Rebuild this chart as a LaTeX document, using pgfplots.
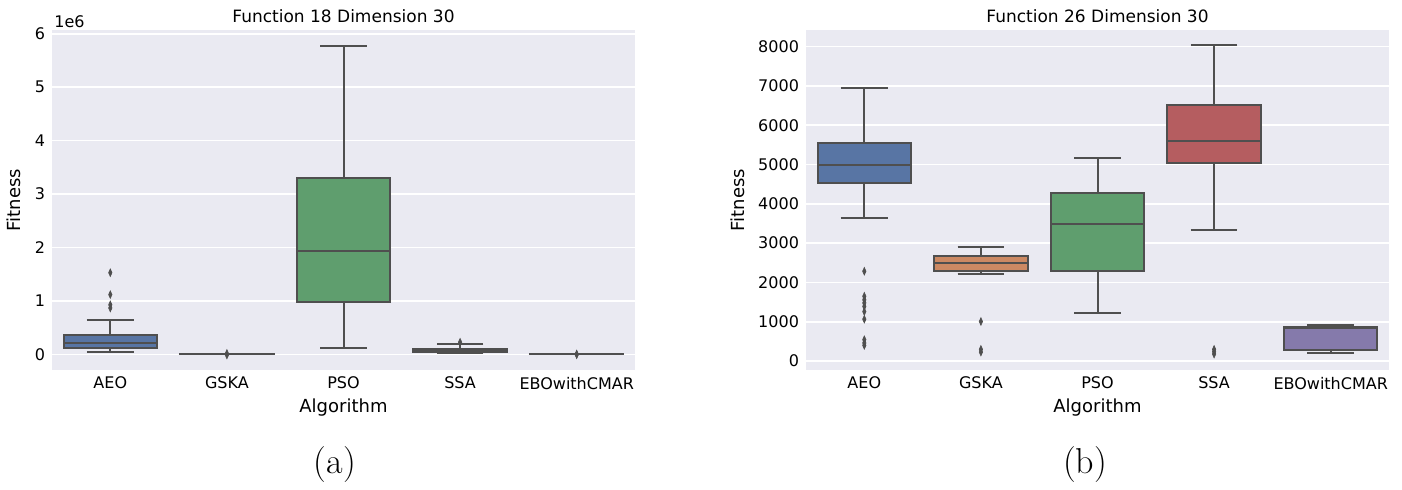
\documentclass[border=0pt]{standalone}
\usepackage{pgfplots}
\pgfplotsset{compat=1.18}
\usepgfplotslibrary{statistics}
\usepackage{fontspec}
\newfontfamily\sea{DejaVu Sans}
\definecolor{bgc}{HTML}{EAEAF2}
\definecolor{lc}{HTML}{4F4F4F}
\definecolor{cB}{HTML}{5875A4}
\definecolor{cO}{HTML}{CC8963}
\definecolor{cG}{HTML}{5F9E6E}
\definecolor{cR}{HTML}{B55D60}
\definecolor{cP}{HTML}{857AAB}
\pgfplotsset{
  every axis title/.style={at={(0.5,1)}, anchor=base, yshift=4pt, font=\sea\fontsize{8.5}{10}\selectfont},
  sea/.style={
    scale only axis, width=291.5pt, height=170pt,
    axis background/.style={fill=bgc},
    axis line style={draw=none},
    major tick length=0pt,
    ymajorgrids, grid style={white, line width=0.8pt},
    xmin=-0.5, xmax=4.5, xtick={0,1,2,3,4},
    xticklabels={AEO,GSKA,PSO,SSA,EBOwithCMAR},
    tick label style={font=\sea\fontsize{8}{9}\selectfont},
    /pgf/number format/assume math mode=true,
    /pgf/number format/1000 sep={},
    scaled y ticks=false,
    label style={font=\sea\fontsize{9}{10}\selectfont},
    xlabel style={yshift=2pt},
    xlabel=Algorithm, ylabel=Fitness,
    clip=false,
    boxplot/draw direction=y,
    boxplot/box extend=0.8,
    boxplot/whisker extend=0.4,
    boxplot/every median/.style={line width=1pt},
    boxplot/every whisker/.style={line width=1pt},
    boxplot/every box/.style={line width=1pt},
  },
  bx/.style={draw=lc, line width=1pt, fill=#1, mark=diamond*,
    mark size=1.9pt, mark options={xscale=0.6, fill=lc, draw=lc, line width=0.3pt}},
}
\begin{document}
\begin{tikzpicture}
\useasboundingbox (0,0) rectangle (701pt,244.5pt);
\begin{axis}[sea, at={(26pt,59.5pt)}, anchor=south west,
  title={Function 18 Dimension 30},
  ymin=-0.29, ymax=6.07, ytick={0,1,2,3,4,5,6}]
\addplot[bx=cB, boxplot prepared={draw position=0, lower whisker=0.04, lower quartile=0.13, median=0.22, upper quartile=0.37, upper whisker=0.65}]
  table[row sep=\\, y index=0]{d\\1.53\\1.12\\0.93\\0.87\\};
\addplot[bx=cO, boxplot prepared={draw position=1, lower whisker=0.004, lower quartile=0.005, median=0.005, upper quartile=0.006, upper whisker=0.007}]
  table[row sep=\\, y index=0]{d\\0.02\\-0.01\\};
\addplot[bx=cG, boxplot prepared={draw position=2, lower whisker=0.12, lower quartile=0.99, median=1.94, upper quartile=3.31, upper whisker=5.78}]
  coordinates {};
\addplot[bx=cR, boxplot prepared={draw position=3, lower whisker=0.02, lower quartile=0.05, median=0.08, upper quartile=0.11, upper whisker=0.19}]
  table[row sep=\\, y index=0]{d\\0.23\\};
\addplot[bx=cP, boxplot prepared={draw position=4, lower whisker=0.002, lower quartile=0.003, median=0.003, upper quartile=0.004, upper whisker=0.005}]
  table[row sep=\\, y index=0]{d\\0.01\\-0.005\\};
\node[anchor=south west, inner sep=1pt, font=\sea\fontsize{8}{9}\selectfont] at (rel axis cs:0,1) {1e6};
\end{axis}
\begin{axis}[sea, at={(403pt,59.5pt)}, anchor=south west,
  title={Function 26 Dimension 30},
  ymin=-225, ymax=8420, ytick={0,1000,2000,3000,4000,5000,6000,7000,8000}]
\addplot[bx=cB, boxplot prepared={draw position=0, lower whisker=3647, lower quartile=4521, median=5000, upper quartile=5546, upper whisker=6949}]
  table[row sep=\\, y index=0]{d\\2286\\1650\\1560\\1480\\1390\\1260\\1067\\546\\462\\400\\};
\addplot[bx=cO, boxplot prepared={draw position=1, lower whisker=2218, lower quartile=2294, median=2496, upper quartile=2672, upper whisker=2907}]
  table[row sep=\\, y index=0]{d\\1008\\300\\230\\};
\addplot[bx=cG, boxplot prepared={draw position=2, lower whisker=1218, lower quartile=2294, median=3487, upper quartile=4286, upper whisker=5160}]
  coordinates {};
\addplot[bx=cR, boxplot prepared={draw position=3, lower whisker=3336, lower quartile=5050, median=5596, upper quartile=6512, upper whisker=8033}]
  table[row sep=\\, y index=0]{d\\300\\240\\180\\};
\addplot[bx=cP, boxplot prepared={draw position=4, lower whisker=201, lower quartile=283, median=850, upper quartile=860, upper whisker=931}]
  coordinates {};
\end{axis}
\node[font=\fontsize{18}{20}\selectfont] at (167.5pt,12pt) {(a)};
\node[font=\fontsize{18}{20}\selectfont] at (542.5pt,12pt) {(b)};
\end{tikzpicture}
\end{document}
